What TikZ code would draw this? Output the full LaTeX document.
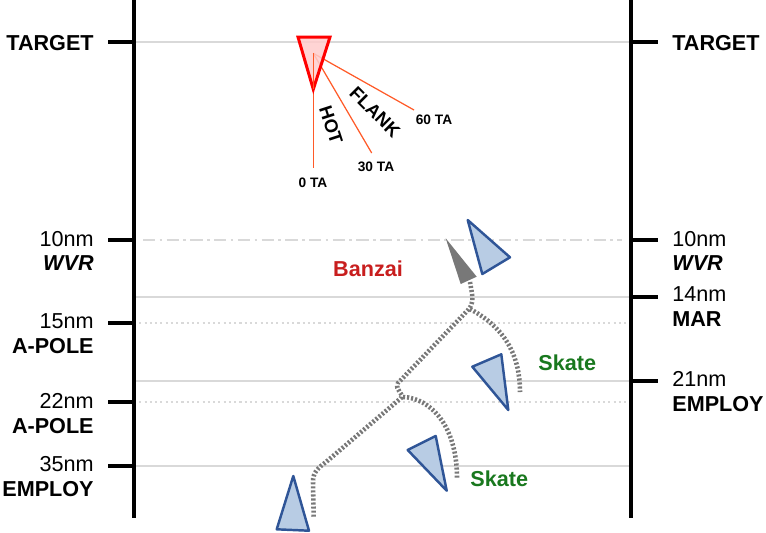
\documentclass[tikz,border=0pt]{standalone}
\usepackage{fontspec}
\setmainfont{Liberation Sans}
\definecolor{gridgray}{RGB}{217,217,217}
\definecolor{pathgray}{RGB}{120,120,120}
\definecolor{jetblue}{RGB}{47,85,151}
\definecolor{jetfill}{RGB}{184,204,228}
\definecolor{tgtfill}{RGB}{255,204,204}
\definecolor{talines}{RGB}{255,90,40}
\definecolor{banzaired}{RGB}{200,30,30}
\definecolor{skategreen}{RGB}{25,120,30}
\begin{document}
\begin{tikzpicture}[x=0.02cm, y=-0.02cm,
	axisbar/.style={line width=2.8pt},
	ticks/.style={line width=2.6pt},
	gridline/.style={draw=gridgray, line width=0.6pt},
	lbl/.style={font=\fontsize{12.3}{14}\selectfont, inner sep=0pt},
	lblb/.style={lbl, font=\fontsize{12.3}{14}\selectfont\bfseries},
	talbl/.style={font=\fontsize{7.8}{8}\selectfont\bfseries, inner sep=0pt},
	aspect/.style={font=\fontsize{10.5}{12}\selectfont\bfseries, inner sep=0pt},
	jet/.style={draw=jetblue, fill=jetfill, line width=1.4pt, line join=round},
	track/.style={draw=pathgray, line width=2.6pt, dash pattern=on 1.2pt off 1.1pt}]

	\useasboundingbox (0,0) rectangle (766,532);

	% range lines
	\draw[gridline] (134,42) -- (631,42);
	\draw[gridline, dash pattern=on 7pt off 2.5pt on 1.5pt off 2.5pt] (143,240) -- (622,240);
	\draw[gridline] (134,297) -- (631,297);
	\draw[gridline, dash pattern=on 1.2pt off 1.8pt] (134,323) -- (631,323);
	\draw[gridline] (134,381) -- (631,381);
	\draw[gridline, dash pattern=on 1.2pt off 1.8pt] (134,402) -- (631,402);
	\draw[gridline] (134,466) -- (631,466);

	% left scale
	\draw[axisbar] (134,0) -- (134,518);
	\foreach \ty in {42,240,323,402,466}
		\draw[ticks] (108,\ty) -- (134,\ty);
	\node[lblb, anchor=base east] (ltgt) at (94,50) {TARGET};
	\node[lbl, anchor=base east] (l10) at (94,246.7) {10nm};
	\node[lblb, anchor=base east] (lwvr) at (94,270) {\itshape WVR};
	\node[lbl, anchor=base east] (l15) at (94,328.3) {15nm};
	\node[lblb, anchor=base east] (lpole1) at (94,353.3) {A-POLE};
	\node[lbl, anchor=base east] (l22) at (94,408) {22nm};
	\node[lblb, anchor=base east] (lpole2) at (94,433) {A-POLE};
	\node[lbl, anchor=base east] (l35) at (94,471.7) {35nm};
	\node[lblb, anchor=base east] (lemploy) at (94,496.7) {EMPLOY};

	% right scale
	\draw[axisbar] (631,0) -- (631,518);
	\foreach \ty in {42,240,297,381}
		\draw[ticks] (631,\ty) -- (658,\ty);
	\node[lblb, anchor=base west] (rtgt) at (672,50) {TARGET};
	\node[lbl, anchor=base west] (r10) at (672,246.3) {10nm};
	\node[lblb, anchor=base west] (rwvr) at (672,270) {\itshape WVR};
	\node[lbl, anchor=base west] (r14) at (672,301.7) {14nm};
	\node[lblb, anchor=base west] (rmar) at (672,326.7) {MAR};
	\node[lbl, anchor=base west] (r21) at (672,386.7) {21nm};
	\node[lblb, anchor=base west] (remploy) at (672,411.7) {EMPLOY};

	% target and aspect lines
	\coordinate (tc) at (313.3,53.3);
	\draw[talines, line width=0.7pt] (tc) -- (313.3,168);
	\draw[talines, line width=0.7pt] (tc) -- (371.7,153);
	\draw[talines, line width=0.7pt] (tc) -- (414,110);
	\draw[red, fill=tgtfill, fill opacity=0.85, line width=1.7pt, line join=miter]
		(298,37) -- (330,37) -- (313.3,89.3) -- cycle;
	\draw[talines, line width=0.7pt] (tc) -- (313.3,89.3);
	\node[talbl, anchor=base] (ta0) at (313,187.7) {0 TA};
	\node[talbl, anchor=base] (ta30) at (376,171.7) {30 TA};
	\node[talbl, anchor=base] (ta60) at (434,124) {60 TA};
	\node[aspect, rotate=-72] (hot) at (331,125) {HOT};
	\node[aspect, rotate=-45] (flank) at (375,112) {FLANK};

	% tracks
	\draw[track] (313.7,516.7) -- (313,482) .. controls (313,472) and (318,468) .. (326,462)
		-- (401,398) .. controls (405,394) and (394,390) .. (398,383)
		-- (468,310) .. controls (475,302) and (472,295) .. (470,282);
	\draw[track] (470,309) .. controls (500,325) and (520,350) .. (520,392);
	\draw[track] (403,397) .. controls (430,398) and (457,425) .. (457,478);

	% fighters
	\fill[pathgray] (445.7,238.3) -- (476.7,276.7) -- (460.7,284) -- cycle;
	\draw[jet] (467.7,220) -- (510,257.3) -- (482.3,274) -- cycle;
	\draw[jet] (472.3,366.7) -- (501.3,354.3) -- (508.3,410) -- cycle;
	\draw[jet] (407.7,450) -- (435.7,436) -- (446.7,490.7) -- cycle;
	\draw[jet] (276.7,529.3) -- (293.3,476) -- (309,530.7) -- cycle;

	% maneuver labels
	\node[lblb, text=banzaired, anchor=base] (banzai) at (368,276.7) {Banzai};
	\node[lblb, text=skategreen, anchor=base west] (skate1) at (538,370.7) {Skate};
	\node[lblb, text=skategreen, anchor=base west] (skate2) at (470,486.7) {Skate};
\end{tikzpicture}
\end{document}
